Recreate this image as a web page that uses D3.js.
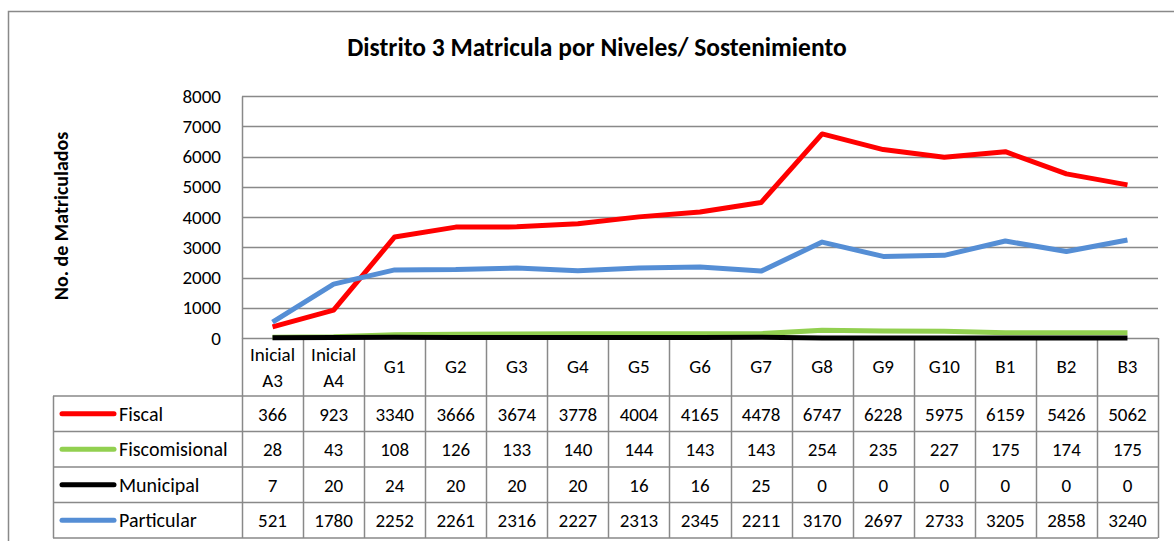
<!DOCTYPE html>
<html>
<head>
<meta charset="utf-8">
<style>
  body { margin: 0; background: #fff; }
  svg text { font-family: Carlito, Calibri, Lato, "Open Sans", sans-serif; fill: #000; }
</style>
</head>
<body>
<svg width="1174" height="541"></svg>
<script src="https://d3js.org/d3.v7.min.js"></script>
<script>
// chart data
var categories = ["Inicial A3", "Inicial A4", "G1", "G2", "G3", "G4", "G5", "G6", "G7", "G8", "G9", "G10", "B1", "B2", "B3"];
var fiscal        = [366, 923, 3340, 3666, 3674, 3778, 4004, 4165, 4478, 6747, 6228, 5975, 6159, 5426, 5062];
var fiscomisional = [28, 43, 108, 126, 133, 140, 144, 143, 143, 254, 235, 227, 175, 174, 175];
var municipal     = [7, 20, 24, 20, 20, 20, 16, 16, 25, 0, 0, 0, 0, 0, 0];
var particular    = [521, 1780, 2252, 2261, 2316, 2227, 2313, 2345, 2211, 3170, 2697, 2733, 3205, 2858, 3240];
var seriesNames   = ["Fiscal", "Fiscomisional", "Municipal", "Particular"];
var yTicks        = [0, 1000, 2000, 3000, 4000, 5000, 6000, 7000, 8000];

var series = [
    { name: seriesNames[0], values: fiscal,        color: "#ff0000" },
    { name: seriesNames[1], values: fiscomisional, color: "#92d050" },
    { name: seriesNames[2], values: municipal,     color: "#000000" },
    { name: seriesNames[3], values: particular,    color: "#558ed5" }
];

var svg = d3.select("svg");
var plotLeft = 242, plotRight = 1158, plotTop = 96, plotBottom = 338;
var headH = 58, rowH = 35.5, legLeft = 53;
var grid = "#898989";

// outer frame
svg.append("rect")
    .attr("x", 8.5).attr("y", 11.5)
    .attr("width", 1170).attr("height", 540)
    .attr("fill", "none").attr("stroke", grid).attr("stroke-width", 1.5);

var x = d3.scaleBand().domain(categories).range([plotLeft, plotRight]).padding(0);
var y = d3.scaleLinear().domain([0, 8000]).range([plotBottom, plotTop]);
var cx = function (c) { return x(c) + x.bandwidth() / 2; };

// title
svg.append("text")
    .attr("x", 597).attr("y", 56)
    .attr("text-anchor", "middle")
    .style("font-size", "25.5px").style("font-weight", "bold")
    .text("Distrito 3 Matricula por Niveles/ Sostenimiento");

// y label
svg.append("text")
    .attr("transform", "translate(68,216)rotate(-90)")
    .attr("text-anchor", "middle")
    .style("font-size", "20px").style("font-weight", "bold")
    .text("No. de Matriculados");

// gridlines
svg.append("g").selectAll("line")
    .data(yTicks.filter(function (d) { return d > 0; }))
    .enter().append("line")
    .attr("x1", plotLeft).attr("x2", plotRight)
    .attr("y1", function (d) { return Math.round(y(d)) + 0.5; })
    .attr("y2", function (d) { return Math.round(y(d)) + 0.5; })
    .attr("stroke", grid).attr("stroke-width", 1.5);

// y axis
var yAxis = svg.append("g")
    .attr("transform", "translate(" + plotLeft + ",0)")
    .call(d3.axisLeft(y).tickValues(yTicks).tickSize(0).tickPadding(21).tickFormat(d3.format("d")));
yAxis.select(".domain").attr("stroke", grid).attr("stroke-width", 1.5);
yAxis.selectAll("text").style("font-size", "19px");

// table
var tableTop = plotBottom, tableBottom = plotBottom + headH + rowH * 4;
var tg = svg.append("g");
var bounds = categories.map(function (c) { return x(c); }).concat([plotRight]);
tg.selectAll(".vl").data(bounds).enter().append("line")
    .attr("x1", function (d) { return Math.round(d) + 0.5; })
    .attr("x2", function (d) { return Math.round(d) + 0.5; })
    .attr("y1", tableTop).attr("y2", tableBottom)
    .attr("stroke", grid).attr("stroke-width", 1.5);
tg.append("line")
    .attr("x1", legLeft + 0.5).attr("x2", legLeft + 0.5)
    .attr("y1", tableTop + headH).attr("y2", tableBottom)
    .attr("stroke", grid).attr("stroke-width", 1.5);
var hls = [0, 1, 2, 3, 4];
tg.selectAll(".hl").data(hls).enter().append("line")
    .attr("x1", legLeft).attr("x2", plotRight)
    .attr("y1", function (i) { return tableTop + headH + i * rowH; })
    .attr("y2", function (i) { return tableTop + headH + i * rowH; })
    .attr("stroke", grid).attr("stroke-width", 1.5);
tg.append("line")
    .attr("x1", plotLeft).attr("x2", plotRight)
    .attr("y1", plotBottom + 0.5).attr("y2", plotBottom + 0.5)
    .attr("stroke", grid).attr("stroke-width", 1.5);

// header labels
categories.forEach(function (c) {
    var parts = c.split(" ");
    var t = tg.append("text").attr("text-anchor", "middle").style("font-size", "19px");
    if (parts.length > 1) {
        t.append("tspan").attr("x", cx(c)).attr("y", tableTop + 23).text(parts[0]);
        t.append("tspan").attr("x", cx(c)).attr("y", tableTop + 49).text(parts[1]);
    } else {
        t.attr("x", cx(c)).attr("y", tableTop + 35).text(c);
    }
});

// data rows
series.forEach(function (s, i) {
    var ry = tableTop + headH + i * rowH + rowH / 2;
    tg.append("line")
        .attr("x1", 62).attr("x2", 114)
        .attr("y1", ry).attr("y2", ry)
        .attr("stroke", s.color).attr("stroke-width", 5)
        .attr("stroke-linecap", "round");
    tg.append("text")
        .attr("x", 119).attr("y", ry + 7)
        .style("font-size", "20px")
        .text(s.name);
    tg.selectAll(".v" + i).data(s.values).enter().append("text")
        .attr("x", function (d, j) { return cx(categories[j]); })
        .attr("y", ry + 7)
        .attr("text-anchor", "middle")
        .style("font-size", "19px")
        .text(function (d) { return d; });
});

// lines
var line = d3.line()
    .x(function (d, j) { return cx(categories[j]); })
    .y(function (d) { return y(d); });
series.forEach(function (s) {
    svg.append("path")
        .datum(s.values)
        .attr("d", line)
        .attr("fill", "none")
        .attr("stroke", s.color)
        .attr("stroke-width", 5)
        .attr("stroke-linejoin", "round");
});
</script>
</body>
</html>
